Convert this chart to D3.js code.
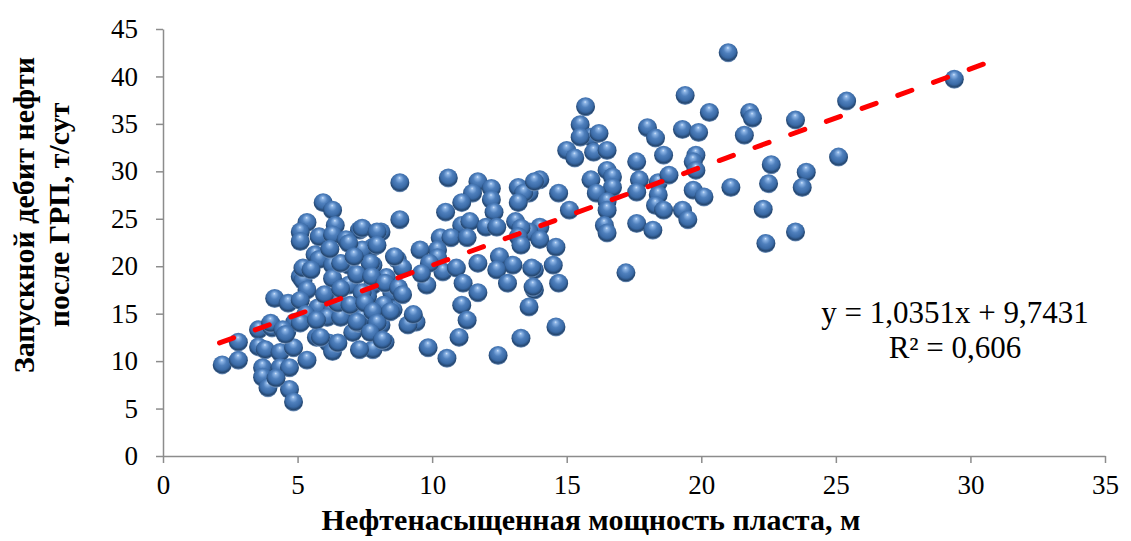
<!DOCTYPE html>
<html>
<head>
<meta charset="utf-8">
<script src="https://cdn.jsdelivr.net/npm/d3@7"></script>
<style>
  body { margin: 0; background: #fff; }
  svg { display: block; }
  text { font-family: "Liberation Serif", "Times New Roman", serif; fill: #000; }
</style>
</head>
<body>
<div id="chart"></div>
<script>
// Oil-saturated thickness, m (x) vs. start-up oil rate after frac, t/day (y)
const thickness = [
  21.0, 29.4, 25.4, 21.8, 21.9, 21.6, 23.5, 22.6, 23.9, 21.1, 22.5, 23.75, 25.1, 22.3, 23.5, 22.4,
  19.4, 20.3, 15.7, 15.5, 18.0, 18.3, 19.3, 19.9, 15.9, 16.2, 15.5, 15.0, 15.3, 16.0, 16.5, 18.6,
  19.8, 19.7, 17.6, 16.5, 16.7, 14.0, 13.6, 15.9, 17.7, 18.4, 18.8, 19.8, 19.7, 20.1, 16.7, 16.1,
  14.7, 16.5, 17.6, 18.4, 18.3, 18.6, 19.3, 19.5, 15.1, 16.5, 16.4, 16.5, 17.6, 18.2, 14.0, 13.6,
  14.0, 14.6, 14.5, 13.8, 17.2, 14.7, 13.8, 13.6, 14.6, 13.3,
  8.8, 10.6, 8.8, 11.7, 11.5, 12.2, 11.1, 12.2, 13.2, 13.4, 13.2, 13.8, 10.5, 12.3, 11.1, 11.4,
  12.0, 12.4, 13.1, 13.3, 13.2, 13.3, 10.3, 10.7, 11.3, 10.2, 9.55, 10.2, 10.4, 10.9, 11.7, 11.15,
  11.7, 12.5, 13.0, 13.7, 12.4, 12.8, 13.75, 11.1, 11.3, 9.8, 8.8, 8.25, 9.4, 9.1, 7.3, 8.1,
  7.8, 7.4, 7.8, 8.7, 8.9, 7.8, 8.3, 8.5, 7.6, 8.55, 9.3, 8.1, 7.4, 8.25, 7.8, 9.85,
  10.55, 11.0, 12.45, 9.9, 9.6,
  5.95, 6.3, 5.35, 5.1, 5.1, 6.4, 5.8, 6.3, 6.8, 7.4, 5.65, 5.8, 6.3, 6.9, 5.1, 5.2,
  5.35, 6.3, 6.9, 7.4, 4.15, 4.65, 5.1, 5.75, 6.3, 7.0, 5.3, 6.1, 6.6, 7.4, 3.55, 4.05,
  4.6, 4.9, 2.8, 3.55, 3.8, 4.35, 4.85, 5.35, 5.7, 6.15, 6.3, 7.05, 7.25, 2.2, 2.8, 3.7,
  3.7, 3.9, 4.35, 4.7, 4.7, 4.85, 4.2, 7.95, 6.9, 6.6, 7.7, 5.2, 8.6, 7.95, 7.2, 7.75,
  8.25, 8.75, 8.9, 6.5, 6.95, 7.5, 8.2, 7.8, 8.45, 4.0, 4.45, 5.1, 5.7, 7.2, 7.95, 7.7,
  8.15, 5.85, 6.5, 7.3, 4.55, 6.0, 6.6, 5.5, 7.1, 6.2
];
const startRate = [
  42.5, 39.7, 37.4, 36.2, 35.6, 33.8, 35.4, 30.7, 29.9, 28.3, 28.7, 28.3, 31.5, 26.0, 23.6, 22.4,
  38.0, 36.2, 36.8, 34.9, 34.6, 33.5, 34.4, 34.1, 33.6, 34.0, 33.6, 32.2, 31.4, 32.0, 32.2, 31.7,
  31.7, 31.0, 31.0, 30.1, 29.4, 29.1, 27.7, 29.1, 29.1, 28.8, 29.6, 30.1, 28.0, 27.3, 28.3, 27.7,
  27.7, 26.8, 27.8, 27.5, 26.4, 25.9, 25.9, 24.9, 25.9, 25.9, 24.3, 23.5, 24.5, 23.8, 24.1, 23.6,
  22.8, 22.0, 20.1, 19.6, 19.3, 18.2, 17.5, 15.7, 13.6, 12.4,
  28.8, 29.3, 24.9, 28.9, 27.7, 28.2, 26.7, 27.0, 28.3, 27.7, 26.7, 28.9, 25.7, 25.7, 24.3, 24.7,
  24.1, 24.1, 24.7, 24.0, 23.1, 22.2, 23.0, 23.0, 23.0, 21.7, 21.7, 20.9, 19.4, 19.8, 20.3, 18.2,
  17.2, 21.0, 20.1, 19.8, 19.6, 18.2, 17.8, 15.9, 14.3, 18.0, 17.2, 15.9, 14.1, 13.8, 23.8, 23.6,
  22.0, 21.7, 20.1, 20.7, 19.8, 18.0, 18.8, 17.2, 16.8, 15.4, 14.9, 13.8, 13.8, 12.0, 11.2, 11.4,
  10.3, 12.5, 10.6, 20.3, 19.2,
  26.7, 25.9, 24.6, 23.6, 22.6, 24.3, 23.1, 23.3, 22.8, 24.0, 21.2, 20.7, 20.1, 20.1, 18.9, 18.5,
  17.5, 18.7, 18.0, 17.2, 16.6, 16.1, 16.4, 15.6, 15.4, 15.7, 14.9, 14.6, 14.6, 14.6, 13.3, 13.5,
  13.1, 14.1, 12.0, 11.5, 11.2, 10.9, 11.4, 10.1, 12.5, 11.9, 11.0, 13.0, 14.0, 9.6, 10.1, 9.3,
  8.3, 7.2, 9.3, 9.3, 7.0, 5.7, 8.2, 23.6, 22.4, 20.3, 20.3, 19.8, 21.0, 22.2, 19.1, 18.9,
  18.2, 17.7, 17.0, 16.1, 15.9, 16.1, 15.9, 15.2, 15.2, 14.0, 13.3, 14.0, 14.3, 14.1, 14.0, 13.0,
  12.2, 12.5, 11.9, 11.2, 12.8, 17.0, 17.6, 19.6, 21.0, 21.8
];

// Linear trend shown in the chart
const trendSlope = 1.0351;
const trendIntercept = 9.7431;
const trendRange = [2.1, 30.8];
const equationLines = ["y = 1,0351x + 9,7431", "R\u00B2 = 0,606"];

const xTicks = [0, 5, 10, 15, 20, 25, 30, 35];
const yTicks = [0, 5, 10, 15, 20, 25, 30, 35, 40, 45];
const xTitle = "Нефтенасыщенная мощность пласта, м";
const yTitle = ["Запускной дебит нефти", "после ГРП, т/сут"];

const width = 1131, height = 541;
const margin = { top: 29, right: 26, bottom: 85, left: 163 };

const svg = d3.select("#chart").append("svg")
  .attr("width", width)
  .attr("height", height);

// sphere look for markers
const defs = svg.append("defs");
const grad = defs.append("radialGradient")
  .attr("id", "sphere")
  .attr("cx", "50%").attr("cy", "42%").attr("r", "58%")
  .attr("fx", "48%").attr("fy", "24%");
[
  ["0%", "#d4e6fb"],
  ["12%", "#8db5e6"],
  ["40%", "#4f80bd"],
  ["70%", "#3a6aa6"],
  ["88%", "#24466f"],
  ["100%", "#7f9fc8"]
].forEach(s => grad.append("stop").attr("offset", s[0]).attr("stop-color", s[1]));

const x = d3.scaleLinear().domain([0, 35]).range([margin.left, width - margin.right]);
const y = d3.scaleLinear().domain([0, 45]).range([height - margin.bottom, margin.top]);

const axisColor = "#8c8c8c";

// y axis
const yAxis = svg.append("g")
  .attr("transform", `translate(${margin.left},0)`)
  .call(d3.axisLeft(y).tickValues(yTicks).tickSize(7).tickPadding(18).tickSizeOuter(0));
yAxis.select(".domain").attr("stroke", axisColor).attr("stroke-width", 1.5);
yAxis.selectAll(".tick line").attr("stroke", axisColor).attr("stroke-width", 1.5);
yAxis.selectAll(".tick text")
  .attr("font-family", "Liberation Serif, Times New Roman, serif")
  .attr("font-size", 27).attr("fill", "#000");

// x axis
const xAxis = svg.append("g")
  .attr("transform", `translate(0,${y(0)})`)
  .call(d3.axisBottom(x).tickValues(xTicks).tickSize(7).tickPadding(12).tickSizeOuter(0));
xAxis.select(".domain").attr("stroke", axisColor).attr("stroke-width", 1.5);
xAxis.selectAll(".tick line").attr("stroke", axisColor).attr("stroke-width", 1.5);
xAxis.selectAll(".tick text")
  .attr("font-family", "Liberation Serif, Times New Roman, serif")
  .attr("font-size", 27).attr("fill", "#000");

// markers
const points = thickness.map((v, i) => ({ x: v, y: startRate[i] }));
svg.append("g")
  .selectAll("circle")
  .data(points)
  .enter()
  .append("circle")
  .attr("cx", d => x(d.x))
  .attr("cy", d => y(d.y))
  .attr("r", 9.5)
  .attr("fill", "url(#sphere)");

// trend line
const trend = trendRange.map(v => ({ x: v, y: trendSlope * v + trendIntercept }));
svg.append("path")
  .datum(trend)
  .attr("d", d3.line().x(d => x(d.x)).y(d => y(d.y)))
  .attr("fill", "none")
  .attr("stroke", "#ff0000")
  .attr("stroke-width", 5)
  .attr("stroke-linecap", "round")
  .attr("stroke-dasharray", "15 23");

// equation
svg.append("g")
  .selectAll("text")
  .data(equationLines)
  .enter()
  .append("text")
  .attr("x", 955)
  .attr("y", (d, i) => 323 + i * 35)
  .attr("text-anchor", "middle")
  .attr("font-size", 31)
  .text(d => d);

// axis titles
svg.append("text")
  .attr("x", 591)
  .attr("y", 530)
  .attr("text-anchor", "middle")
  .attr("font-size", 30)
  .attr("font-weight", "bold")
  .text(xTitle);

svg.append("g")
  .attr("transform", "translate(0,215) rotate(-90)")
  .selectAll("text")
  .data(yTitle)
  .enter()
  .append("text")
  .attr("x", 0)
  .attr("y", (d, i) => 34 + i * 35)
  .attr("text-anchor", "middle")
  .attr("font-size", 30)
  .attr("font-weight", "bold")
  .text(d => d);
</script>
</body>
</html>
